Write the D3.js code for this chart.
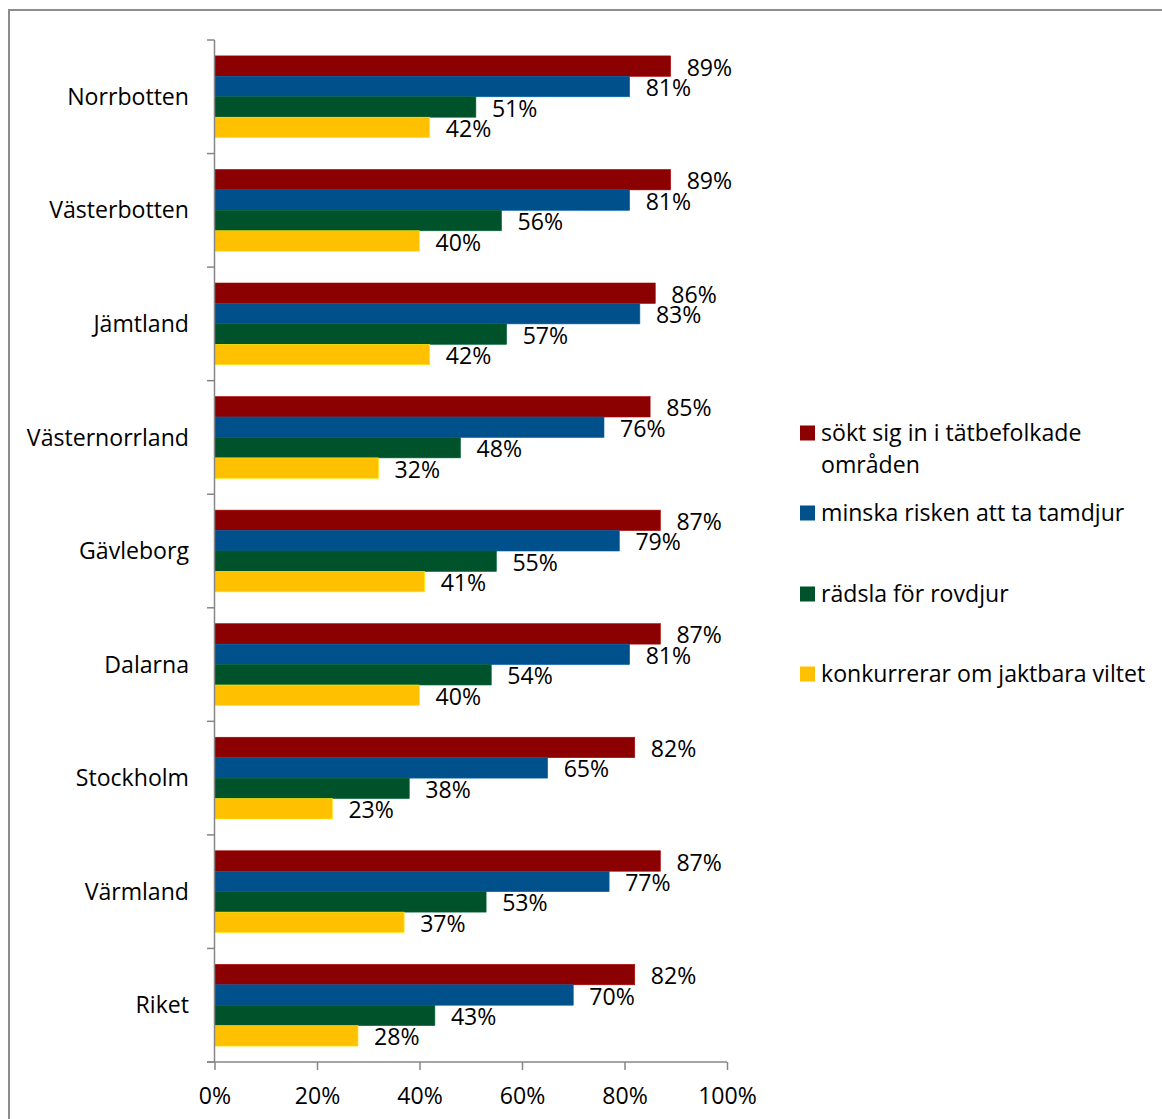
<head>
    <meta charset="utf-8" />
    <script src="https://d3js.org/d3.v7.min.js"></script>
</head>
<style>
    body { margin: 0; background: #fff; }
    text { font-family: "Open Sans", Lato, sans-serif; fill: #000; }
</style>
<body>
</body>
<script>
// data
var regions = ["Norrbotten", "Västerbotten", "Jämtland", "Västernorrland", "Gävleborg", "Dalarna", "Stockholm", "Värmland", "Riket"];
var seriesNames = ["sökt sig in i tätbefolkade områden", "minska risken att ta tamdjur", "rädsla för rovdjur", "konkurrerar om jaktbara viltet"];
var soktSig = [89, 89, 86, 85, 87, 87, 82, 87, 82];
var minskaRisken = [81, 81, 83, 76, 79, 81, 65, 77, 70];
var radsla = [51, 56, 57, 48, 55, 54, 38, 53, 43];
var konkurrerar = [42, 40, 42, 32, 41, 40, 23, 37, 28];
var xTicks = [0, 20, 40, 60, 80, 100];

var colors = ["#8b0000", "#00508c", "#00522a", "#ffc000"];
var series = [soktSig, minskaRisken, radsla, konkurrerar];

var svg = d3.select("body").append("svg")
    .attr("width", 1162)
    .attr("height", 1119);

// pick a font size so "Västernorrland" is about as wide as in the picture
var probe = svg.append("text").style("font-size", "20px").text("Västernorrland");
var fs = Math.round(20 * 162 / probe.node().getComputedTextLength() * 10) / 10;
probe.remove();
var fsPx = fs + "px";

// outer frame
svg.append("rect")
    .attr("x", 9).attr("y", 10)
    .attr("width", 1170).attr("height", 1130)
    .attr("fill", "none")
    .attr("stroke", "#8c8c8c")
    .attr("stroke-width", 2);

var x = d3.scaleLinear().domain([0, 100]).range([214.5, 727]);
var y = d3.scaleBand().domain(regions).range([40, 1062]).paddingInner(0.28).paddingOuter(0.14);
var inner = d3.scaleBand().domain(d3.range(4)).range([0, y.bandwidth()]);

var g = svg.append("g");

regions.forEach(function (r, i) {
    series.forEach(function (s, j) {
        var v = s[i];
        var y0 = y(r) + inner(j);
        g.append("rect")
            .attr("x", x(0))
            .attr("y", y0)
            .attr("width", x(v) - x(0))
            .attr("height", inner.bandwidth())
            .attr("fill", colors[j])
            .attr("stroke", d3.color(colors[j]).brighter(0.6))
            .attr("stroke-width", 0.6);
        g.append("text")
            .attr("x", x(v) + 16)
            .attr("y", y0 + inner.bandwidth() / 2 + 1.5)
            .attr("dy", "0.35em")
            .style("font-size", fsPx)
            .text(v + "%");
    });
});

// category axis with ticks between groups
var yAxisG = svg.append("g");
var bounds = d3.range(regions.length + 1).map(function (i) { return 40 + i * (1022 / regions.length); });
yAxisG.append("line")
    .attr("x1", 214.5).attr("x2", 214.5)
    .attr("y1", 40).attr("y2", 1062)
    .attr("stroke", "#868686").attr("stroke-width", 1.5);
yAxisG.selectAll(".tk").data(bounds).enter().append("line")
    .attr("x1", 207).attr("x2", 214.5)
    .attr("y1", function (d) { return d; })
    .attr("y2", function (d) { return d; })
    .attr("stroke", "#868686").attr("stroke-width", 1.5);
yAxisG.selectAll(".lbl").data(regions).enter().append("text")
    .attr("x", 189)
    .attr("y", function (d) { return y(d) + y.bandwidth() / 2; })
    .attr("dy", "0.35em")
    .attr("text-anchor", "end")
    .style("font-size", fsPx)
    .text(function (d) { return d; });

// value axis
var xAxis = d3.axisBottom(x)
    .tickValues(xTicks)
    .tickSize(8)
    .tickSizeOuter(0)
    .tickPadding(18)
    .tickFormat(function (d) { return d + "%"; });
var xAxisG = svg.append("g")
    .attr("transform", "translate(0,1062)")
    .call(xAxis);
xAxisG.select(".domain").attr("stroke", "#868686").attr("stroke-width", 1.5)
    .attr("d", "M207,0H727");
xAxisG.selectAll(".tick line").attr("stroke", "#868686").attr("stroke-width", 1.5);
xAxisG.selectAll(".tick text")
    .style("font-family", "'Open Sans', Lato, sans-serif")
    .style("font-size", fsPx)
    .attr("fill", "#000");

// legend
var legendY = [433, 513, 594, 674];
var legend = svg.append("g");
seriesNames.forEach(function (name, j) {
    legend.append("rect")
        .attr("x", 800).attr("y", legendY[j] - 7.5)
        .attr("width", 15).attr("height", 15)
        .attr("fill", colors[j]);
    var t = legend.append("text")
        .attr("x", 821)
        .attr("y", legendY[j])
        .attr("dy", "0.35em")
        .style("font-size", fsPx);
    if (j === 0) {
        t.append("tspan").attr("x", 821).text("sökt sig in i tätbefolkade");
        t.append("tspan").attr("x", 821).attr("dy", "32").text("områden");
    } else {
        t.text(name);
    }
});
</script>
